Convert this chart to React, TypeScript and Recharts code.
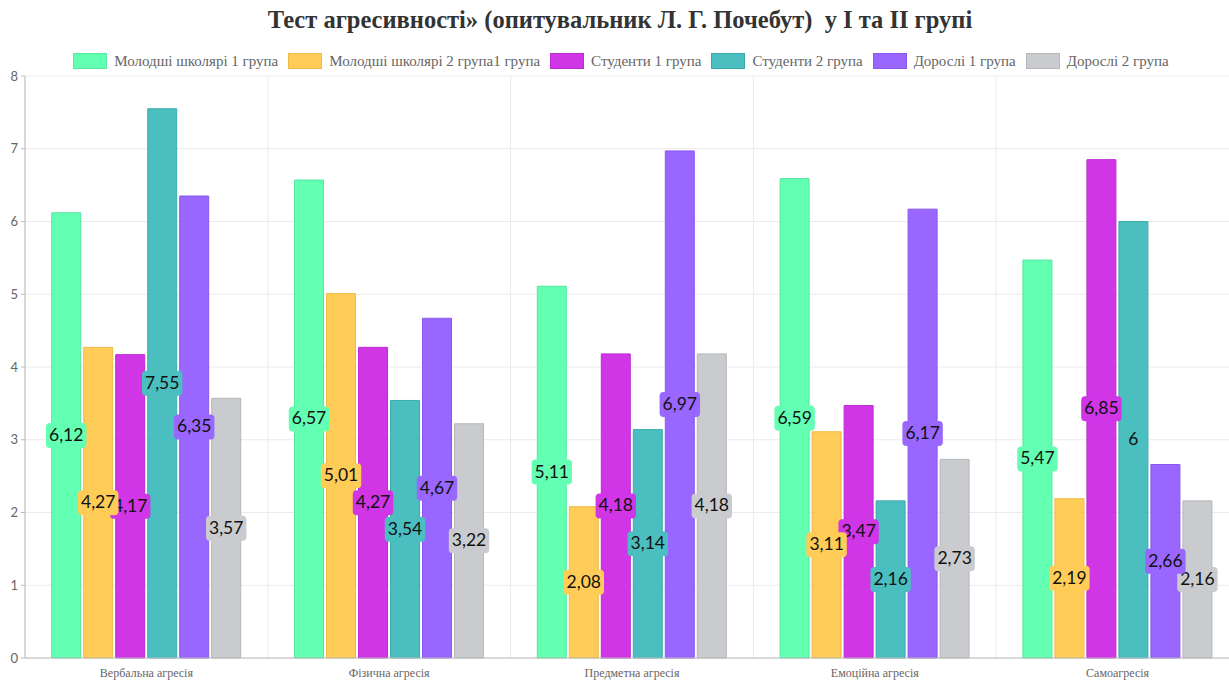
import { BarChart, Bar, XAxis, YAxis, CartesianGrid, LabelList } from 'recharts'

const categories = [
  'Вербальна агресія',
  'Фізична агресія',
  'Предметна агресія',
  'Емоційна агресія',
  'Самоагресія',
]

const seriesNames = [
  'Молодші школярі 1 група',
  'Молодші школярі 2 група1 група',
  'Студенти 1 група',
  'Студенти 2 група',
  'Дорослі 1 група',
  'Дорослі 2 група',
]

const young1 = [6.12, 6.57, 5.11, 6.59, 5.47]
const young2 = [4.27, 5.01, 2.08, 3.11, 2.19]
const students1 = [4.17, 4.27, 4.18, 3.47, 6.85]
const students2 = [7.55, 3.54, 3.14, 2.16, 6]
const adults1 = [6.35, 4.67, 6.97, 6.17, 2.66]
const adults2 = [3.57, 3.22, 4.18, 2.73, 2.16]

const yTicks = [0, 1, 2, 3, 4, 5, 6, 7, 8]

const fills = ['#63ffb2', '#ffcc57', '#d035e6', '#4bbfbf', '#9966ff', '#c9cbcf']
const borders = ['#55e89e', '#eebb48', '#bd2cd3', '#40abab', '#8a58ee', '#b5b7bb']

const seriesValues = [young1, young2, students1, students2, adults1, adults2]
const keys = ['s0', 's1', 's2', 's3', 's4', 's5']

const data = categories.map((name, i) => {
  const row: Record<string, string | number> = { name }
  seriesValues.forEach((vals, s) => {
    row[keys[s]] = vals[i]
  })
  return row
})

const LABEL_FONT = '17.5px Lato'

let measureCtx: CanvasRenderingContext2D | null = null
function textWidth(t: string) {
  if (!measureCtx) measureCtx = document.createElement('canvas').getContext('2d')
  if (!measureCtx) return t.length * 9
  measureCtx.font = LABEL_FONT
  return measureCtx.measureText(t).width
}

// value badge drawn in the middle of the bar, same colour as the bar
function makeBadge(color: string) {
  return function Badge(props: any) {
    const { x, y, width, height, value } = props
    if (value == null) return null
    const text = String(value).replace('.', ',')
    const w = textWidth(text) + 6
    const h = 25
    const cx = Number(x) + Number(width) / 2
    const cy = Number(y) + Number(height) / 2
    return (
      <g>
        <rect x={cx - w / 2} y={cy - h / 2} width={w} height={h} rx={4} ry={4} fill={color} />
        <text
          x={cx}
          y={cy + 1}
          textAnchor="middle"
          dominantBaseline="middle"
          style={{ font: LABEL_FONT, fill: '#111' }}
        >
          {text}
        </text>
      </g>
    )
  }
}

const badges = fills.map((c) => makeBadge(c))

function Legend() {
  return (
    <div
      style={{
        position: 'absolute',
        top: 52,
        left: 0,
        width: 1242,
        display: 'flex',
        justifyContent: 'center',
        gap: 10,
        fontFamily: '"Liberation Serif", serif',
        fontSize: 15,
        color: '#666',
      }}
    >
      {seriesNames.map((n, i) => (
        <div key={n} style={{ display: 'flex', alignItems: 'center', height: 18 }}>
          <span
            style={{
              display: 'inline-block',
              width: 32,
              height: 14,
              background: fills[i],
              border: `1px solid ${borders[i]}`,
              marginRight: 7,
            }}
          />
          <span>{n}</span>
        </div>
      ))}
    </div>
  )
}

export default function App() {
  return (
    <div
      style={{
        position: 'absolute',
        left: 0,
        top: 0,
        width: 1229,
        height: 681,
        overflow: 'hidden',
        background: '#fff',
      }}
    >
      <div
        style={{
          position: 'absolute',
          top: 6,
          left: 0,
          width: 1240,
          textAlign: 'center',
          fontFamily: '"Liberation Serif", serif',
          fontWeight: 'bold',
          fontSize: 24.5,
          color: '#333',
        }}
      >
        Тест агресивності» (опитувальник Л. Г. Почебут)&nbsp; у І та ІІ групі
      </div>
      <Legend />
      <BarChart
        width={1250}
        height={681}
        data={data}
        margin={{ top: 76, right: 11, left: 0, bottom: 0 }}
        barCategoryGap="11%"
        barGap={3}
      >
        <CartesianGrid
          stroke="#ebebeb"
          verticalCoordinatesGenerator={({ offset }: any) =>
            categories.map((_, i) => offset.left + (i * offset.width) / categories.length).concat(offset.left + offset.width)
          }
        />
        <XAxis
          dataKey="name"
          height={23}
          tickLine={false}
          axisLine={{ stroke: '#bdbdbd' }}
          tick={{ fontFamily: '"Liberation Serif", serif', fontSize: 12, fill: '#666' }}
          tickMargin={4}
        />
        <YAxis
          width={25}
          domain={[0, 8]}
          ticks={yTicks}
          interval={0}
          tickSize={4}
          tickMargin={3}
          tickLine={{ stroke: '#bdbdbd' }}
          axisLine={{ stroke: '#bdbdbd' }}
          tick={{ fontFamily: 'Lato, sans-serif', fontSize: 13, fill: '#666' }}
        />
        {keys.map((k, i) => (
          <Bar
            key={k}
            dataKey={k}
            name={seriesNames[i]}
            fill={fills[i]}
            stroke={borders[i]}
            strokeWidth={1}
            isAnimationActive={false}
          >
            {/* earlier series' badges sit above later ones */}
            <LabelList dataKey={k} content={badges[i]} {...({ zIndex: 2000 + keys.length - i } as any)} />
          </Bar>
        ))}
      </BarChart>
    </div>
  )
}
